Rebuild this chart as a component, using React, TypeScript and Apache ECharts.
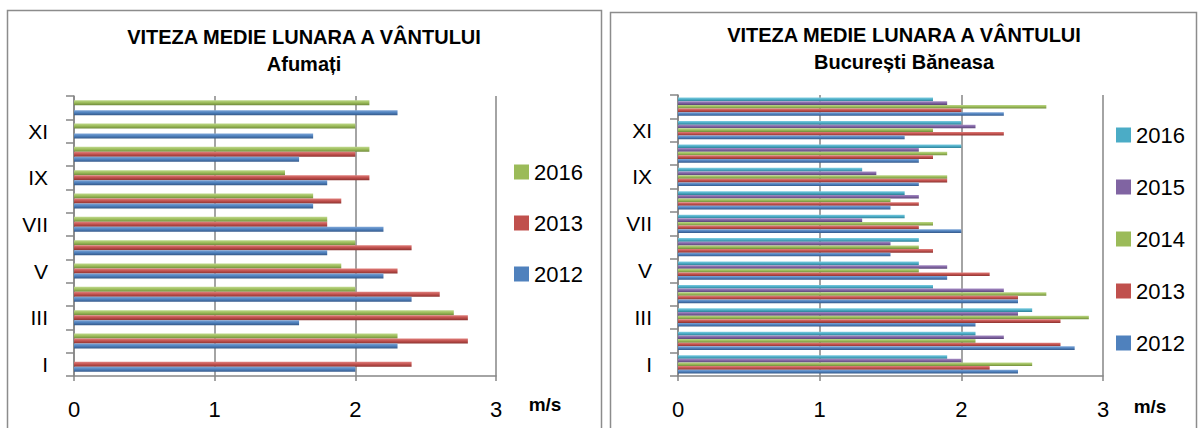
import React, { useEffect, useRef } from "react";
import * as echarts from "echarts";

const months = ["I", "II", "III", "IV", "V", "VI", "VII", "VIII", "IX", "X", "XI", "XII"];
const xTicks = [0, 1, 2, 3];

// Afumați
const afumati2012 = [2.0, 2.3, 1.6, 2.4, 2.2, 1.8, 2.2, 1.7, 1.8, 1.6, 1.7, 2.3];
const afumati2013 = [2.4, 2.8, 2.8, 2.6, 2.3, 2.4, 1.8, 1.9, 2.1, 2.0, 0, 0];
const afumati2016 = [0, 2.3, 2.7, 2.0, 1.9, 2.0, 1.8, 1.7, 1.5, 2.1, 2.0, 2.1];

// București Băneasa
const baneasa2012 = [2.4, 2.8, 2.1, 2.4, 1.9, 1.5, 2.0, 1.5, 1.7, 1.7, 1.6, 2.3];
const baneasa2013 = [2.2, 2.7, 2.7, 2.4, 2.2, 1.8, 1.7, 1.7, 1.9, 1.8, 2.3, 2.0];
const baneasa2014 = [2.5, 2.1, 2.9, 2.6, 1.7, 1.7, 1.8, 1.5, 1.9, 1.9, 1.8, 2.6];
const baneasa2015 = [2.0, 2.3, 2.4, 2.3, 1.9, 1.5, 1.3, 1.7, 1.4, 1.7, 2.1, 1.9];
const baneasa2016 = [1.9, 2.1, 2.5, 1.8, 1.7, 1.7, 1.6, 1.6, 1.3, 2.0, 2.0, 1.8];

const COLORS: Record<string, [string, string, string]> = {
  "2012": ["#7ea6d8", "#4F81BD", "#35598a"],
  "2013": ["#e07f7c", "#C0504D", "#8c3330"],
  "2014": ["#bed88a", "#9BBB59", "#6f8a3b"],
  "2015": ["#a78dc6", "#8064A2", "#5a4476"],
  "2016": ["#7fcde0", "#4BACC6", "#2f7f95"],
};
const LEFT_COLORS: Record<string, [string, string, string]> = {
  ...COLORS,
  "2016": ["#bed88a", "#9BBB59", "#6f8a3b"],
};

const FONT = "Liberation Sans";
const GRID_COLOR = "#868686";

function grad(c: [string, string, string]) {
  return new echarts.graphic.LinearGradient(0, 0, 0, 1, [
    { offset: 0, color: c[0] },
    { offset: 0.5, color: c[1] },
    { offset: 1, color: c[2] },
  ]);
}

export default function App() {
  const ref = useRef<HTMLDivElement>(null);

  useEffect(() => {
    if (!ref.current) return;
    const chart = echarts.init(ref.current, undefined, { renderer: "svg" });

    const leftSeries: [string, number[]][] = [
      ["2016", afumati2016],
      ["2013", afumati2013],
      ["2012", afumati2012],
    ];
    const rightSeries: [string, number[]][] = [
      ["2016", baneasa2016],
      ["2015", baneasa2015],
      ["2014", baneasa2014],
      ["2013", baneasa2013],
      ["2012", baneasa2012],
    ];

    const xAxisBase = (gridIndex: number) => ({
      gridIndex,
      type: "value",
      min: 0,
      max: 3,
      interval: 1,
      axisLine: { show: true, lineStyle: { color: GRID_COLOR, width: 1.5 } },
      axisTick: { show: true, length: 5, lineStyle: { color: GRID_COLOR, width: 1.5 } },
      splitLine: { show: true, lineStyle: { color: GRID_COLOR, width: 1.5 } },
      axisLabel: {
        fontFamily: FONT,
        fontSize: 22,
        color: "#000",
        margin: 22,
        formatter: (v: number) => (xTicks.includes(v) ? String(v) : ""),
      },
    });
    const yAxisBase = (gridIndex: number) => ({
      gridIndex,
      type: "category",
      data: months,
      axisLine: { show: true, lineStyle: { color: GRID_COLOR, width: 1.5 } },
      axisTick: { show: true, length: 8, interval: 0, lineStyle: { color: GRID_COLOR, width: 1.5 } },
      axisLabel: { interval: 1, fontFamily: FONT, fontSize: 21, color: "#000", margin: 26 },
      splitLine: { show: false },
    });

    const series: any[] = [];
    leftSeries.forEach(([name, data]) => {
      series.push({
        type: "bar",
        name: "Afumați " + name,
        xAxisIndex: 0,
        yAxisIndex: 0,
        data,
        barGap: "0%",
        barCategoryGap: "36%",
        itemStyle: { color: grad(LEFT_COLORS[name]) },
      });
    });
    rightSeries.forEach(([name, data]) => {
      series.push({
        type: "bar",
        name: "Băneasa " + name,
        xAxisIndex: 1,
        yAxisIndex: 1,
        data,
        barGap: "0%",
        barCategoryGap: "22%",
        itemStyle: { color: grad(COLORS[name]) },
      });
    });

    const legendText = { fontFamily: FONT, fontSize: 22, color: "#000", lineHeight: 22 };

    chart.setOption({
      animation: false,
      backgroundColor: "#fff",
      grid: [
        { left: 74, top: 96, width: 422, height: 280 },
        { left: 678, top: 95, width: 425, height: 281 },
      ],
      xAxis: [xAxisBase(0), xAxisBase(1)],
      yAxis: [yAxisBase(0), yAxisBase(1)],
      legend: [
        {
          orient: "vertical",
          left: 514,
          top: 161,
          padding: 0,
          itemGap: 29,
          itemWidth: 15,
          itemHeight: 15,
          icon: "rect",
          textStyle: legendText,
          formatter: (n: string) => n.split(" ").pop(),
          data: leftSeries.map(([n]) => ({ name: "Afumați " + n, itemStyle: { color: LEFT_COLORS[n][1] } })),
        },
        {
          orient: "vertical",
          left: 1116,
          top: 124,
          padding: 0,
          itemGap: 30,
          itemWidth: 15,
          itemHeight: 15,
          icon: "rect",
          textStyle: legendText,
          formatter: (n: string) => n.split(" ").pop(),
          data: rightSeries.map(([n]) => ({ name: "Băneasa " + n, itemStyle: { color: COLORS[n][1] } })),
        },
      ],
      graphic: [
        { type: "rect", shape: { x: 7.5, y: 10.5, width: 594, height: 440 }, style: { fill: "none", stroke: "#8c8c8c", lineWidth: 1.5 }, silent: true },
        { type: "rect", shape: { x: 610.5, y: 12.5, width: 586, height: 440 }, style: { fill: "none", stroke: "#8c8c8c", lineWidth: 1.5 }, silent: true },
        { type: "text", x: 304, y: 37, style: { text: "VITEZA MEDIE LUNARA A VÂNTULUI", font: `bold 20px "${FONT}"`, fill: "#000", textAlign: "center", textVerticalAlign: "middle" } },
        { type: "text", x: 304, y: 64, style: { text: "Afumați", font: `bold 20px "${FONT}"`, fill: "#000", textAlign: "center", textVerticalAlign: "middle" } },
        { type: "text", x: 904, y: 35, style: { text: "VITEZA MEDIE LUNARA A VÂNTULUI", font: `bold 20px "${FONT}"`, fill: "#000", textAlign: "center", textVerticalAlign: "middle" } },
        { type: "text", x: 904, y: 62, style: { text: "București Băneasa", font: `bold 20px "${FONT}"`, fill: "#000", textAlign: "center", textVerticalAlign: "middle" } },
        { type: "text", x: 545, y: 404, style: { text: "m/s", font: `bold 19px "${FONT}"`, fill: "#000", textAlign: "center", textVerticalAlign: "middle" } },
        { type: "text", x: 1150, y: 406, style: { text: "m/s", font: `bold 19px "${FONT}"`, fill: "#000", textAlign: "center", textVerticalAlign: "middle" } },
      ],
      series,
    });

    return () => chart.dispose();
  }, []);

  return (
    <div
      ref={ref}
      style={{ position: "absolute", left: 0, top: 0, width: 1198, height: 428 }}
    />
  );
}
